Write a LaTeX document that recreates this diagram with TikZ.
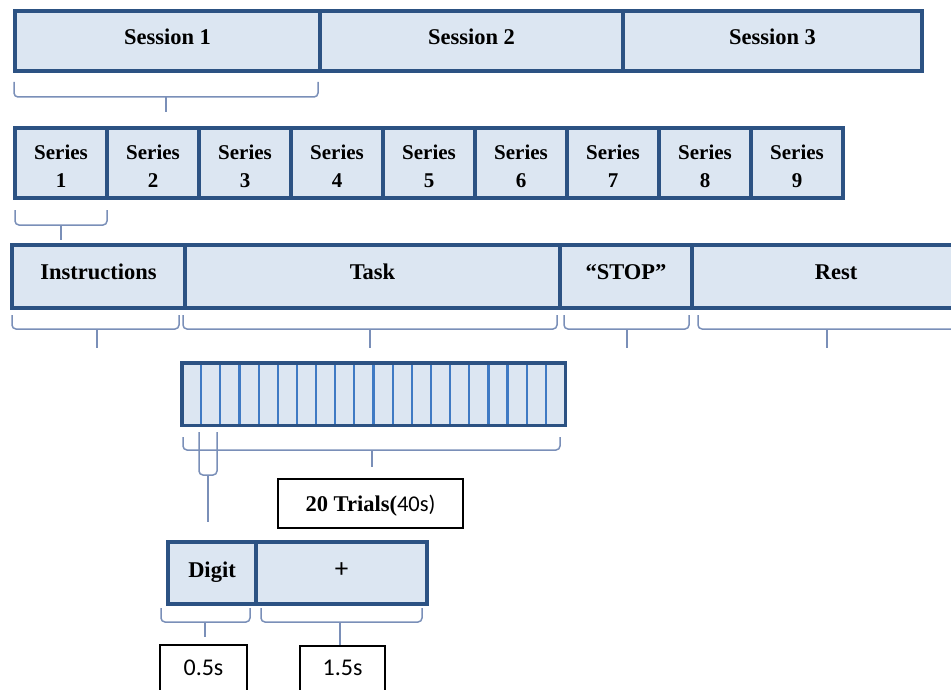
\documentclass[tikz,border=0pt]{standalone}
\usepackage{fontspec}
\setmainfont{Liberation Serif}
\newfontfamily\calfont{Carlito}
\definecolor{cellfill}{HTML}{DCE6F2}
\definecolor{boxblue}{HTML}{2C5283}
\definecolor{divblue}{HTML}{3F7AC4}
\definecolor{braceblue}{HTML}{7A8FB8}
\tikzset{
  cell/.style={draw=boxblue, fill=cellfill, line width=3.2pt, inner sep=0pt,
    font=\bfseries\fontsize{22.5}{28}\selectfont, align=center},
  label box/.style={draw=black, line width=1.5pt, fill=white, inner sep=0pt},
  bracestyle/.style={draw=braceblue, line width=1.5pt, rounded corners=4pt},
}
% bracket: x1, x2, y of ends, y of bar, x of stem, y of stem end
\newcommand\bracegroup[6]{%
  \draw[bracestyle] (#1,#3) -- (#1,#4) -- (#2,#4) -- (#2,#3);
  \draw[bracestyle] (#5,#4) -- (#5,#6);}
% text whose baseline sits #1 below the middle of its cell
\newcommand\setbase[2]{\raisebox{-#1}[0pt][0pt]{#2}}
\begin{document}
\begin{tikzpicture}[x=1pt,y=-1pt]
\useasboundingbox (0,0) rectangle (951,690);
\clip (0,0) rectangle (951,690);

% sessions
\node[cell, minimum width=305, minimum height=60] (ses1) at (167.5,41) {\setbase{3.5pt}{Session 1}};
\node[cell, minimum width=303, minimum height=60] (ses2) at (471.5,41) {\setbase{3.5pt}{Session 2}};
\node[cell, minimum width=299, minimum height=60] (ses3) at (772.5,41) {\setbase{3.5pt}{Session 3}};
\bracegroup{14}{318}{82}{97}{166}{112}

% series
\foreach \i in {1,...,9} {
  \node[cell, minimum width=92, minimum height=70, font=\bfseries\fontsize{21}{28}\selectfont]
    (ser\i) at ({15+92*(\i-1)+46},163)
    {\setbase{10pt}{\begin{tabular}{@{}c@{}}Series\\\i\end{tabular}}};
}
\bracegroup{15}{107}{210}{225}{61}{240}

% phases of one series
\node[cell, minimum width=173, minimum height=63] (instr) at (98.5,276.5) {\setbase{3pt}{Instructions}};
\node[cell, minimum width=375, minimum height=63] (task) at (372.5,276.5) {\setbase{3pt}{Task}};
\node[cell, minimum width=132, minimum height=63] (stop) at (626,276.5) {\setbase{3pt}{``STOP''}};
\node[cell, minimum width=288, minimum height=63] (rest) at (836,276.5) {\setbase{3pt}{Rest}};
\bracegroup{12}{179}{315}{329}{97}{348}
\bracegroup{183}{557}{315}{329}{370}{348}
\bracegroup{564}{689}{315}{329}{627}{348}
\bracegroup{698}{990}{315}{329}{827}{348}

% twenty trials
\node[fill=cellfill, inner sep=0pt, minimum width=383, minimum height=62] (trials) at (373.5,394) {};
\foreach \k in {1,...,19} {
  \draw[divblue, line width=2.2pt] ({182+383/20*\k},363) -- ({182+383/20*\k},425);
}
\draw[boxblue, line width=3.4pt] (trials.north west) rectangle (trials.south east);
\bracegroup{183}{560}{437}{450}{372}{467}
\bracegroup{199}{217}{432}{475}{208}{522}
\node[label box, minimum width=185, minimum height=49] (ntr) at (370.5,503.5)
  {\setbase{7.5pt}{\bfseries\fontsize{22.5}{24}\selectfont 20 Trials(\mdseries\calfont 40s)}};

% single trial
\node[cell, minimum width=88, minimum height=62] (digit) at (212,573) {\setbase{4.5pt}{Digit}};
\node[cell, minimum width=171, minimum height=62] (plus) at (341.5,573)
  {\setbase{4pt}{\mdseries\calfont\fontsize{27}{28}\selectfont +}};
\bracegroup{161}{250}{608}{622}{205}{637}
\bracegroup{261}{422}{608}{622}{340}{645}
\node[label box, minimum width=87, minimum height=60] (tdig) at (203.5,675) {};
\node[font=\calfont\fontsize{24}{26}\selectfont] at (203.5,668) {0.5s};
\node[label box, minimum width=85, minimum height=60] (tplus) at (342.5,676) {};
\node[font=\calfont\fontsize{24}{26}\selectfont] at (342.5,668) {1.5s};
\end{tikzpicture}
\end{document}
